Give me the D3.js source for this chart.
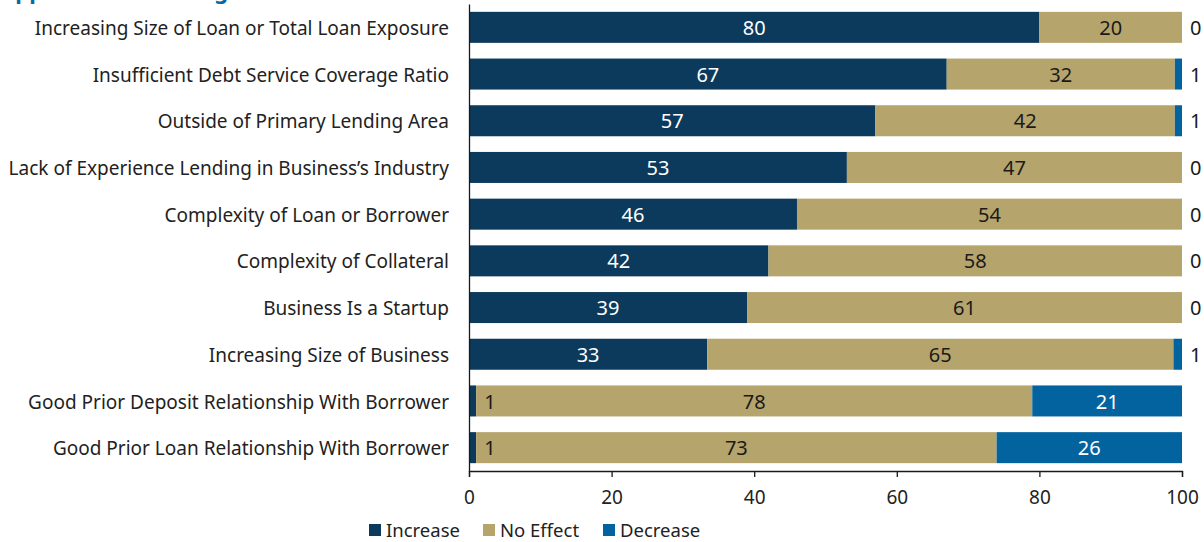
<!DOCTYPE html>
<html>
<head>
<meta charset="utf-8">
<script src="https://cdn.jsdelivr.net/npm/d3@7/dist/d3.min.js"></script>
<style>
  html, body { margin: 0; padding: 0; background: #fff; }
  svg { display: block; }
  text { font-family: "Noto Sans", "Open Sans", sans-serif; }
</style>
</head>
<body>
<svg id="chart" width="1204" height="542"></svg>
<script>
const categories = [
  "Increasing Size of Loan or Total Loan Exposure",
  "Insufficient Debt Service Coverage Ratio",
  "Outside of Primary Lending Area",
  "Lack of Experience Lending in Business\u2019s Industry",
  "Complexity of Loan or Borrower",
  "Complexity of Collateral",
  "Business Is a Startup",
  "Increasing Size of Business",
  "Good Prior Deposit Relationship With Borrower",
  "Good Prior Loan Relationship With Borrower"
];
const increase = [80, 67, 57, 53, 46, 42, 39, 33.4, 1, 1];
const noEffect = [20, 32, 42, 47, 54, 58, 61, 65.4, 78, 73];
const decrease = [0, 1, 1, 0, 0, 0, 0, 1.2, 21, 26];
const seriesNames = ["Increase", "No Effect", "Decrease"];
const xTicks = [0, 20, 40, 60, 80, 100];
const titleText = "Approach to Lending";

const colors = { "Increase": "#0b3a5c", "No Effect": "#b5a46c", "Decrease": "#03639f" };
const labelColors = { "Increase": "#ffffff", "No Effect": "#1a1a1a", "Decrease": "#ffffff" };
const fmt = d3.format(".0f");

const svg = d3.select("#chart");

// partially visible title (cut off at the top, as in the reference)
svg.append("text")
  .attr("x", 0).attr("y", -1)
  .attr("fill", "#0569a6")
  .attr("font-size", 22)
  .attr("font-weight", 700)
  .text(titleText);

const x = d3.scaleLinear().domain([0, 100]).range([469, 1182]);
const y = d3.scaleBand().domain(categories).range([4, 471]).paddingInner(0.336).paddingOuter(0.168);

const rows = categories.map((c, i) => {
  const vals = [increase[i], noEffect[i], decrease[i]];
  let acc = 0;
  return vals.map((v, k) => {
    const seg = { cat: c, key: seriesNames[k], v, x0: acc, x1: acc + v };
    acc += v;
    return seg;
  });
});
const segs = rows.flat();

svg.append("g").selectAll("rect").data(segs).join("rect")
  .attr("x", d => x(d.x0))
  .attr("width", d => x(d.x1) - x(d.x0))
  .attr("y", d => y(d.cat))
  .attr("height", y.bandwidth())
  .attr("fill", d => colors[d.key]);

// value labels
svg.append("g").selectAll("text").data(segs).join("text")
  .attr("font-size", 20)
  .attr("dy", "0.38em")
  .attr("y", d => y(d.cat) + y.bandwidth() / 2)
  .each(function(d) {
    const t = d3.select(this);
    if (d.v < 5) {
      t.attr("x", x(d.x1) + 8).attr("text-anchor", "start").attr("fill", "#1a1a1a");
    } else {
      t.attr("x", (x(d.x0) + x(d.x1)) / 2).attr("text-anchor", "middle").attr("fill", labelColors[d.key]);
    }
  })
  .text(d => fmt(d.v));

// y axis
const yAxis = svg.append("g").attr("transform", "translate(469,0)")
  .call(d3.axisLeft(y).tickSize(0).tickPadding(20));
yAxis.select(".domain").attr("stroke", "#1a1a1a").attr("stroke-width", 1.3);
yAxis.selectAll("text").attr("font-size", 19).attr("fill", "#222").attr("dy", "0.4em")
  .attr("font-family", "'Noto Sans', sans-serif");

// x axis
const xAxis = svg.append("g").attr("transform", "translate(0,471)")
  .call(d3.axisBottom(x).tickValues(xTicks).tickSize(6).tickSizeOuter(6).tickPadding(14));
xAxis.select(".domain").attr("stroke", "#1a1a1a").attr("stroke-width", 1.3);
xAxis.selectAll(".tick line").attr("stroke", "#1a1a1a").attr("stroke-width", 1.3);
xAxis.selectAll("text").attr("font-size", 19).attr("fill", "#222").attr("font-family", "'Noto Sans', sans-serif");

// legend
const legendX = [369, 483, 603];
const lg = svg.append("g").selectAll("g").data(seriesNames).join("g")
  .attr("transform", (d, i) => `translate(${legendX[i]},530)`);
lg.append("rect").attr("x", 0).attr("y", -6).attr("width", 12).attr("height", 12)
  .attr("fill", d => colors[d]);
lg.append("text").attr("x", 17).attr("dy", "0.38em").attr("font-size", 18.5).attr("fill", "#222")
  .text(d => d);
</script>
</body>
</html>
